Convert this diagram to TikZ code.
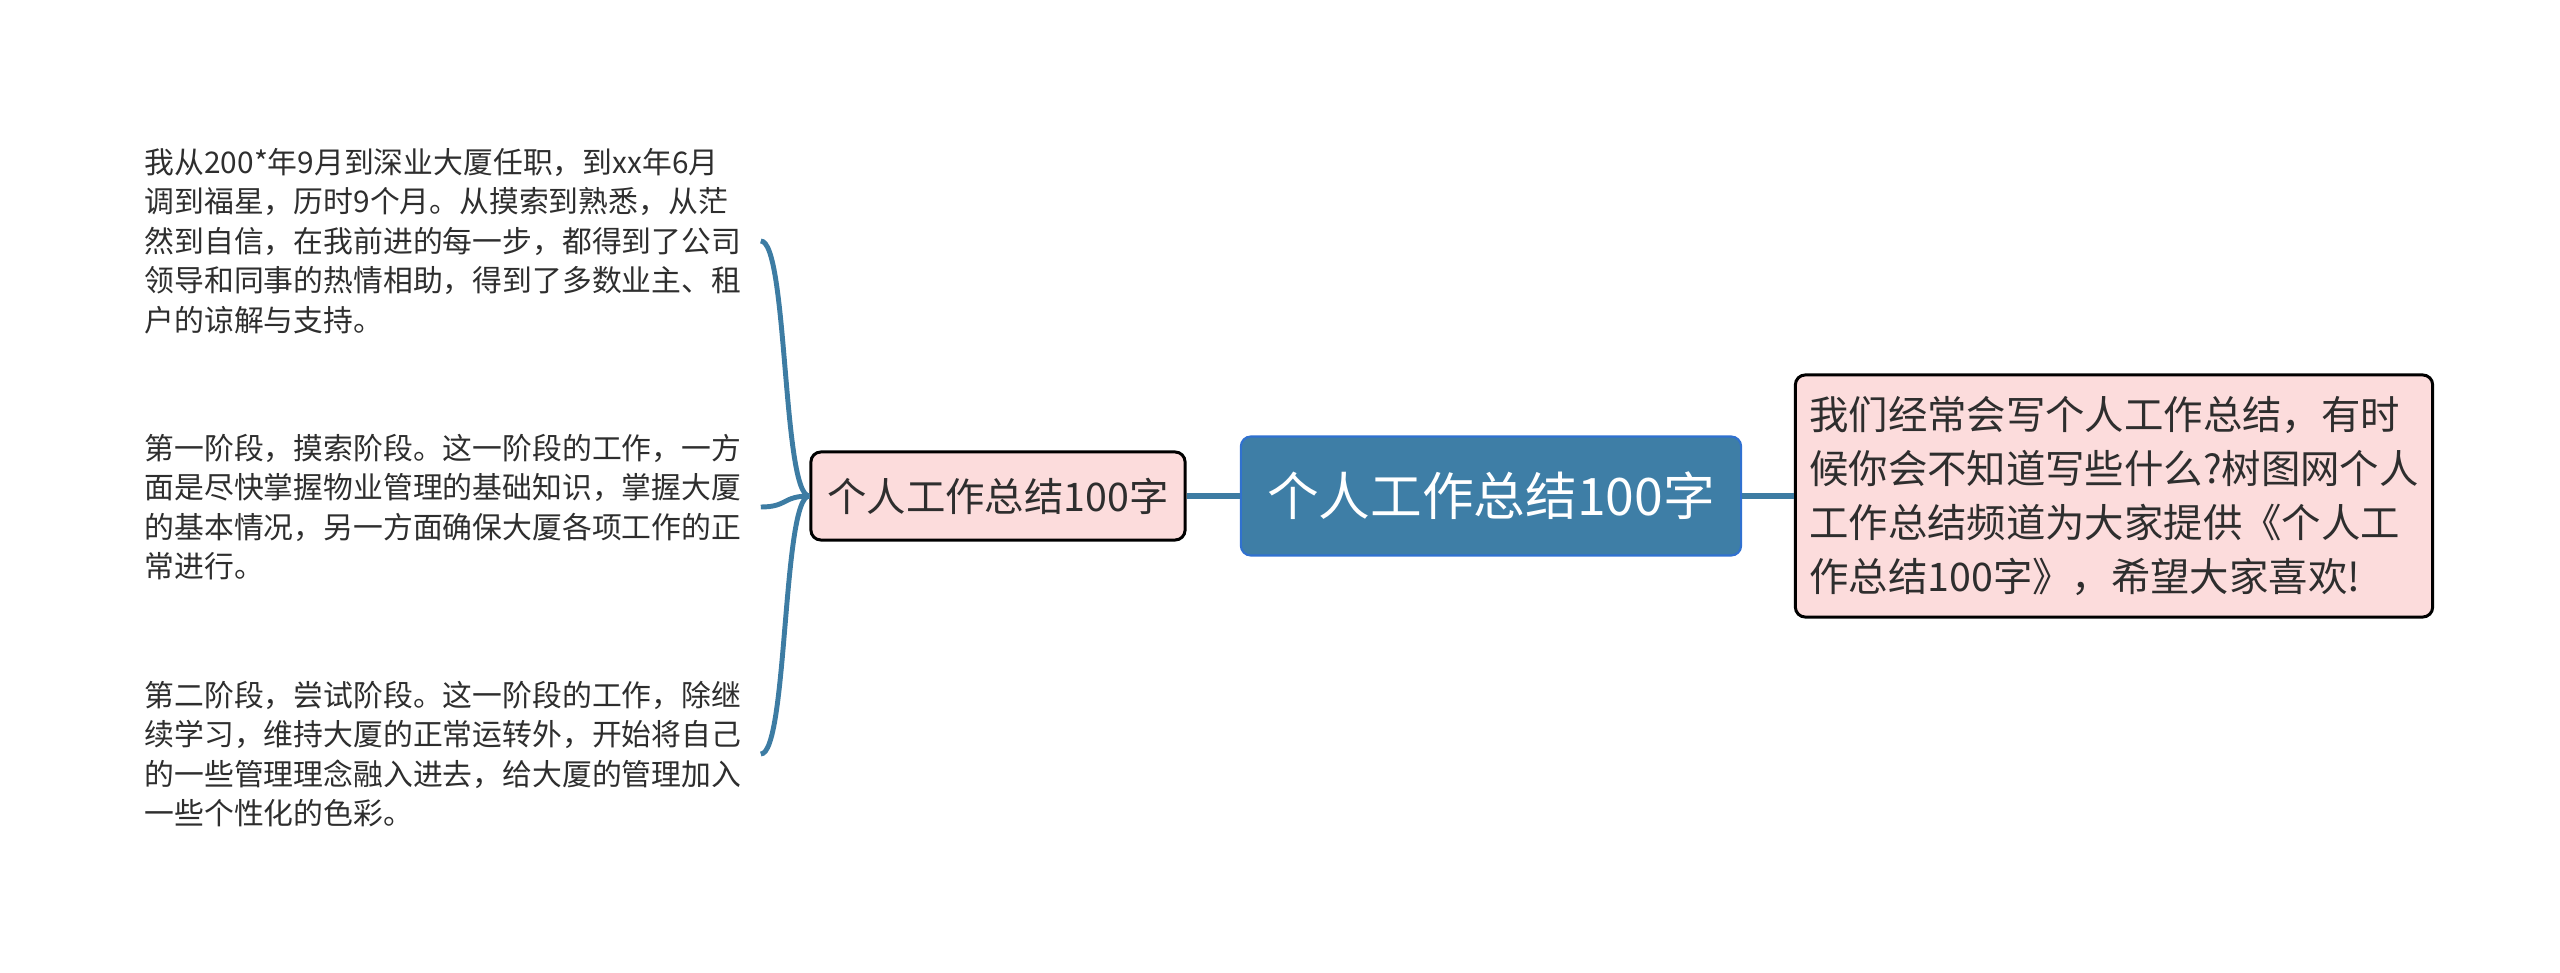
\documentclass[tikz,border=0pt]{standalone}
\usepackage{fontspec}
\setmainfont{Noto Sans CJK SC}
\usepackage{xcolor}
\usetikzlibrary{positioning}
\definecolor{rootblue}{HTML}{3E7EA6}
\definecolor{rootedge}{HTML}{3071D0}
\definecolor{linkblue}{HTML}{3D7CA3}
\definecolor{notepink}{HTML}{FCDCDC}
\definecolor{inktext}{HTML}{2E2E2E}

\begin{document}
\begin{tikzpicture}[
  x=0.01cm, y=-0.01cm,
  every node/.style={align=left, text=inktext},
  root/.style={draw=rootedge, line width=0.6pt, fill=rootblue, rounded corners=0.1cm, minimum width=5cm, minimum height=1.19cm, text=white, font=\fontsize{14.7}{18}\selectfont, align=center},
  topic/.style={draw=black, line width=0.85pt, fill=notepink, rounded corners=0.1cm, minimum width=3.74cm, minimum height=0.88cm, font=\fontsize{11.2}{14}\selectfont, align=center},
  note/.style={topic, minimum width=6.37cm, minimum height=2.42cm, align=left, font=\fontsize{11.2}{15.4}\selectfont},
  leaf/.style={anchor=west, inner xsep=0.15cm, inner ysep=0pt, text width=6cm, font=\fontsize{8.48}{11.2}\selectfont},
  link/.style={draw=linkblue, line width=1.7pt},
  branch/.style={draw=linkblue, line width=1.4pt}
]
\useasboundingbox (0,0) rectangle (2560,973);
\node[root] (root) at (1491,496) {个人工作总结100字};
\node[topic] (topic) at (998,496) {个人工作总结100字};
\node[note] (note) at (2114,496) {我们经常会写个人工作总结，有时\\候你会不知道写些什么?树图网个人\\工作总结频道为大家提供《个人工\\作总结100字》，希望大家喜欢!};
\node[leaf] (leafA) at (129,241) {我从200*年9月到深业大厦任职，到xx年6月\\调到福星，历时9个月。从摸索到熟悉，从茫\\然到自信，在我前进的每一步，都得到了公司\\领导和同事的热情相助，得到了多数业主、租\\户的谅解与支持。};
\node[leaf] (leafB) at (129,507) {第一阶段，摸索阶段。这一阶段的工作，一方\\面是尽快掌握物业管理的基础知识，掌握大厦\\的基本情况，另一方面确保大厦各项工作的正\\常进行。};
\node[leaf] (leafC) at (129,754) {第二阶段，尝试阶段。这一阶段的工作，除继\\续学习，维持大厦的正常运转外，开始将自己\\的一些管理理念融入进去，给大厦的管理加入\\一些个性化的色彩。};
\draw[link] (root) -- (topic);
\draw[link] (root) -- (note);
\draw[branch] (topic.west) .. controls +(-27,0) and +(27,0) .. (leafA.east);
\draw[branch] (topic.west) .. controls +(-27,0) and +(27,0) .. (leafB.east);
\draw[branch] (topic.west) .. controls +(-27,0) and +(27,0) .. (leafC.east);
\end{tikzpicture}
\end{document}
